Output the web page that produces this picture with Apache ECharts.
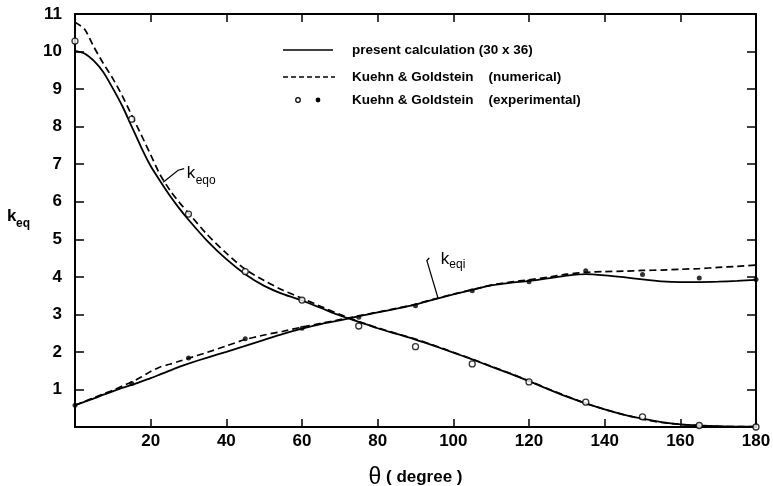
<!DOCTYPE html>
<html><head><meta charset="utf-8">
<script src="https://cdn.jsdelivr.net/npm/echarts@6/dist/echarts.min.js"></script>
<style>html,body{margin:0;padding:0;background:#fff}#c{width:773px;height:486px}</style>
</head><body><div id="c"></div>
<script>
// ---- data (theta in degrees) ----
const theta = [0,2.5,5,7.5,10,12.5,15,17.5,20,22.5,25,27.5,30,35,40,45,50,55,60,65,70,75,80,85,90,95,100,105,110,115,120,125,130,135,140,145,150,155,160,165,170,175,180];
const keqoPresent = [10.02,9.95,9.75,9.45,9.02,8.55,8.0,7.45,6.95,6.55,6.17,5.83,5.52,4.95,4.47,4.07,3.76,3.54,3.37,3.17,2.97,2.80,2.63,2.48,2.33,2.16,1.98,1.80,1.61,1.42,1.22,1.01,0.81,0.63,0.47,0.33,0.22,0.13,0.07,0.04,0.02,0.01,0.01];
const keqoNumerical = [10.78,10.6,10.12,9.68,9.28,8.82,8.3,7.78,7.25,6.72,6.32,5.99,5.70,5.12,4.63,4.2,3.9,3.64,3.43,3.21,3.0,2.81,2.64,2.49,2.34,2.17,1.99,1.81,1.62,1.43,1.23,1.02,0.82,0.63,0.47,0.33,0.21,0.12,0.07,0.04,0.02,0.01,0.01];
const keqiPresent = [0.58,0.67,0.76,0.86,0.95,1.04,1.12,1.21,1.3,1.4,1.5,1.6,1.69,1.85,2.0,2.16,2.32,2.48,2.62,2.74,2.84,2.95,3.05,3.15,3.26,3.4,3.53,3.65,3.77,3.84,3.89,3.96,4.03,4.07,4.04,3.99,3.93,3.88,3.86,3.86,3.87,3.89,3.92];
const keqiNumerical = [0.58,0.68,0.78,0.88,0.98,1.09,1.2,1.33,1.48,1.6,1.67,1.75,1.83,1.99,2.16,2.33,2.45,2.55,2.66,2.76,2.86,2.96,3.06,3.16,3.27,3.41,3.54,3.66,3.78,3.86,3.92,3.99,4.07,4.12,4.14,4.15,4.17,4.18,4.2,4.22,4.25,4.28,4.31];
const expTheta = [0,15,30,45,60,75,90,105,120,135,150,165,180];
const expOuter = [10.28,8.2,5.67,4.14,3.38,2.69,2.14,1.68,1.2,0.66,0.27,0.04,0.0];
const expInner = [0.58,1.16,1.84,2.35,2.63,2.92,3.23,3.63,3.87,4.16,4.06,3.97,3.93];
const xTicks = [0,20,40,60,80,100,120,140,160,180];
const yTicks = [0,1,2,3,4,5,6,7,8,9,10,11];
const legendLabels = ['present calculation (30 x 36)','Kuehn & Goldstein    (numerical)','Kuehn & Goldstein    (experimental)'];
const annoKeqo = {theta: 23.3, k: 6.52, sub: 'eqo'};
const annoKeqi = {theta: 95.9, k: 3.45, sub: 'eqi'};

const F = '"Liberation Sans", Arial, Helvetica, sans-serif';
const pair = (xs, ys) => xs.map((x,i)=>[x, ys[i]]);
const chart = echarts.init(document.getElementById('c'), null, {renderer:'canvas'});

const lineBase = {type:'line', showSymbol:false, symbol:'none', smooth:0.25, clip:false, z:3, silent:true};
const axisLineStyle = {color:'#000', width:2};
const xBase = {type:'value', min:xTicks[0], max:xTicks[xTicks.length-1], interval:20, splitLine:{show:false},
  axisLine:{show:true, onZero:false, lineStyle:axisLineStyle},
  axisTick:{show:true, inside:true, length:8, lineStyle:{color:'#000', width:1.5}}};
const yBase = {type:'value', min:yTicks[0], max:yTicks[yTicks.length-1], interval:1, splitLine:{show:false},
  axisLine:{show:true, onZero:false, lineStyle:axisLineStyle},
  axisTick:{show:true, inside:true, length:9, lineStyle:{color:'#000', width:1.5}}};

chart.setOption({
  animation:false,
  backgroundColor:'#fff',
  grid:{left:75, right:17, top:14, bottom:59, containLabel:false, outerBoundsMode:'none'},
  xAxis:[
    Object.assign({}, xBase, {position:'bottom',
      axisLabel:{color:'#000', fontFamily:F, fontWeight:'bold', fontSize:17, margin:6, formatter:v=> v===0?'':String(v)},
      name:'{t|θ}{d| ( degree )}', nameLocation:'middle', nameGap:39,
      nameTextStyle:{rich:{t:{fontFamily:F, fontSize:23, color:'#000'}, d:{fontFamily:F, fontSize:17, fontWeight:'bold', color:'#000'}}}}),
    Object.assign({}, xBase, {position:'top', axisLabel:{show:false}})
  ],
  yAxis:[
    Object.assign({}, yBase, {position:'left',
      axisLabel:{color:'#000', fontFamily:F, fontWeight:'bold', fontSize:17, margin:13, formatter:v=> v===0?'':String(v)}}),
    Object.assign({}, yBase, {position:'right', axisLabel:{show:false}})
  ],
  series:[
    Object.assign({}, lineBase, {name:'keqo present', data:pair(theta,keqoPresent), lineStyle:{color:'#000', width:1.8, type:'solid'}}),
    Object.assign({}, lineBase, {name:'keqo numerical', data:pair(theta,keqoNumerical), lineStyle:{color:'#000', width:1.7, type:[7,4]}}),
    Object.assign({}, lineBase, {name:'keqi present', data:pair(theta,keqiPresent), lineStyle:{color:'#000', width:1.8, type:'solid'}}),
    Object.assign({}, lineBase, {name:'keqi numerical', data:pair(theta,keqiNumerical), lineStyle:{color:'#000', width:1.7, type:[7,4]}}),
    {type:'scatter', name:'exp outer', data:pair(expTheta,expOuter), symbol:'circle', symbolSize:6, clip:false, z:5,
      itemStyle:{color:'#fff', borderColor:'#000', borderWidth:1.3}},
    {type:'scatter', name:'exp inner', data:pair(expTheta,expInner), symbol:'circle', symbolSize:5, clip:false, z:5,
      itemStyle:{color:'#000'}}
  ]
});

function anno(a, pts, kOff, sOff) {
  const p = chart.convertToPixel({xAxisIndex:0, yAxisIndex:0}, [a.theta, a.k]);
  const out = [];
  out.push({type:'polyline', silent:true, z:10, shape:{points: pts.map(d=>[p[0]+d[0], p[1]+d[1]])}, style:{stroke:'#000', lineWidth:1.2, fill:null}});
  out.push({type:'text', silent:true, z:10, x:p[0]+kOff[0], y:p[1]+kOff[1], style:{text:'k', fontFamily:F, fontSize:17, fill:'#000', verticalAlign:'middle', align:'left'}});
  out.push({type:'text', silent:true, z:10, x:p[0]+sOff[0], y:p[1]+sOff[1], style:{text:a.sub, fontFamily:F, fontSize:12, fill:'#000', verticalAlign:'middle', align:'left'}});
  return out;
}

const lg = {x1:283, x2:333, tx:352, y:[50,77,100]};
const legend = [
  {type:'line', silent:true, shape:{x1:lg.x1, y1:lg.y[0], x2:lg.x2, y2:lg.y[0]}, style:{stroke:'#000', lineWidth:1.6}},
  {type:'line', silent:true, shape:{x1:lg.x1, y1:lg.y[1], x2:lg.x2+2, y2:lg.y[1]}, style:{stroke:'#000', lineWidth:1.6, lineDash:[5,3]}},
  {type:'circle', silent:true, shape:{cx:298, cy:lg.y[2], r:2.3}, style:{fill:'#fff', stroke:'#000', lineWidth:1.2}},
  {type:'circle', silent:true, shape:{cx:318, cy:lg.y[2], r:2.4}, style:{fill:'#000'}}
];
legendLabels.forEach((t,i)=> legend.push({type:'text', silent:true, x:lg.tx, y:lg.y[i],
  style:{text:t, fontFamily:F, fontWeight:'bold', fontSize:13.5, fill:'#000', verticalAlign:'middle', align:'left'}}));

const yName = [
  {type:'text', silent:true, x:7, y:216, style:{text:'k', fontFamily:F, fontWeight:'bold', fontSize:17, fill:'#000', verticalAlign:'middle'}},
  {type:'text', silent:true, x:16, y:224, style:{text:'eq', fontFamily:F, fontWeight:'bold', fontSize:12, fill:'#000', verticalAlign:'middle'}}
];

const graphics = [].concat(
  legend, yName,
  anno(annoKeqo, [[0,0],[15,-12],[21,-13.5]], [23.5,-9], [32.5,-2]),
  anno(annoKeqi, [[0,0],[-11,-37],[-8.5,-39.5]], [3,-38], [11.5,-32.5])
);
chart.setOption({graphic: graphics});
</script>
</body></html>
